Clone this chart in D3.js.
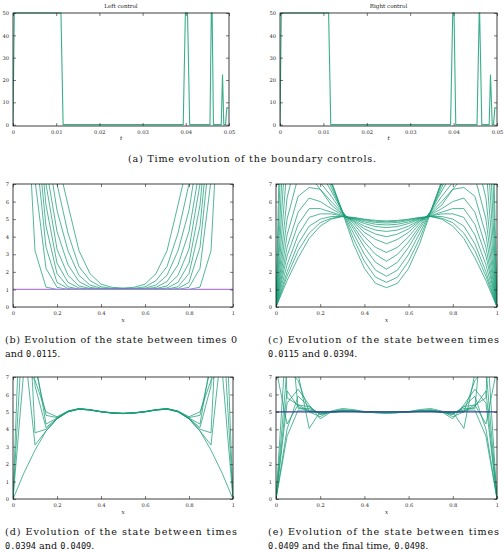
<!DOCTYPE html>
<html>
<head>
<meta charset="utf-8">
<script src="https://cdn.jsdelivr.net/npm/d3@7"></script>
<style>
body { margin: 0; background: #fff; }
svg text { font-family: "DejaVu Serif", serif; }
</style>
</head>
<body>
<svg id="fig" width="504" height="552"></svg>
<script>
// ---- datos: controles de frontera ----
var ctrlTicksX = [0, 0.01, 0.02, 0.03, 0.04, 0.05];
var ctrlTicksY = [0, 10, 20, 30, 40, 50];
var leftT = [0, 0.0003, 0.0111, 0.0116, 0.0394, 0.0399, 0.0404, 0.0409, 0.0456, 0.0459, 0.0461, 0.0464, 0.0482, 0.0485, 0.0488, 0.0492, 0.0495, 0.0499];
var leftU = [0, 50, 50, 0, 0, 50, 50, 0, 0, 50, 50, 0, 0, 22.5, 0, 0, 7.5, 7.5];
var rightT = [0, 0.0003, 0.0112, 0.0117, 0.0393, 0.0398, 0.0401, 0.0405, 0.0454, 0.0459, 0.0460, 0.0465, 0.0482, 0.0485, 0.0489, 0.0492, 0.0495, 0.0499];
var rightU = [0, 50, 50, 0, 0, 50, 50, 0, 0, 50, 50, 0, 0, 22.5, 0, 0, 7.5, 7.5];

// ---- datos: estado (media malla x = 0 ... 0.5, perfil simetrico) ----
var stateTicksX = [0, 0.2, 0.4, 0.6, 0.8, 1];
var stateTicksY = [0, 1, 2, 3, 4, 5, 6, 7];
var initState = 1;
var targetState = 5;

var curvesB = [
  [50, 15, 3.2, 1.13, 1, 1, 1, 1, 1, 1, 1],
  [50, 19, 7.2, 2.2, 1.12, 1, 1, 1, 1, 1, 1],
  [50, 22, 9.5, 3.4, 1.4, 1.05, 1, 1, 1, 1, 1],
  [50, 24, 11, 4.6, 1.9, 1.15, 1.02, 1, 1, 1, 1],
  [50, 26, 12.5, 5.8, 2.5, 1.4, 1.08, 1.02, 1, 1, 1],
  [50, 27, 14, 7, 3.3, 1.8, 1.2, 1.05, 1.01, 1, 1.01],
  [50, 28, 15, 8, 4.3, 2.4, 1.45, 1.12, 1.03, 1.01, 1.02],
  [50, 29, 16, 9.5, 5.5, 3.2, 1.8, 1.25, 1.07, 1.03, 1.03],
  [50, 30, 17.5, 10.5, 7, 4.2, 2.3, 1.5, 1.15, 1.06, 1.05],
  [50, 31, 19, 12, 8.5, 5.8, 3.2, 1.9, 1.3, 1.12, 1.08]
];

var curvesC = [
  [0, 28, 19, 13, 9.5, 7.2, 5.4, 3.6, 2.2, 1.35, 1.1],
  [0, 20, 17.5, 12.5, 9.3, 7.1, 5.45, 3.9, 2.6, 1.7, 1.4],
  [0, 14, 15, 11.5, 8.8, 7.0, 5.45, 4.2, 3.0, 2.1, 1.75],
  [0, 10.5, 12.5, 10.5, 8.3, 6.8, 5.45, 4.45, 3.4, 2.55, 2.15],
  [0, 8, 10.5, 9.4, 7.7, 6.6, 5.45, 4.6, 3.7, 3.0, 2.6],
  [0, 6.2, 8.8, 8.4, 7.1, 6.3, 5.4, 4.75, 4.0, 3.4, 3.1],
  [0, 5.0, 7.4, 7.5, 6.7, 6.0, 5.35, 4.85, 4.25, 3.85, 3.6],
  [0, 4.1, 6.3, 6.8, 6.7, 5.8, 5.3, 4.9, 4.45, 4.15, 4.0],
  [0, 3.4, 5.4, 6.2, 6.0, 5.6, 5.25, 4.95, 4.6, 4.38, 4.3],
  [0, 2.9, 4.7, 5.6, 5.6, 5.4, 5.2, 5.0, 4.75, 4.58, 4.52],
  [0, 2.4, 4.1, 5.1, 5.3, 5.3, 5.17, 5.03, 4.84, 4.71, 4.67],
  [0, 2.0, 3.6, 4.6, 5.0, 5.15, 5.15, 5.05, 4.92, 4.81, 4.78],
  [0, 1.75, 3.2, 4.2, 4.8, 5.05, 5.15, 5.08, 4.97, 4.88, 4.85],
  [0, 1.5, 2.8, 3.9, 4.6, 5.0, 5.15, 5.1, 5.0, 4.93, 4.9]
];

var curvesD = [
  [0, 1.5, 2.8, 3.9, 4.6, 5.0, 5.15, 5.1, 5.0, 4.93, 4.9],
  [50, 9, 3.1, 3.9, 4.6, 5.0, 5.16, 5.1, 5.0, 4.93, 4.9],
  [50, 16, 3.8, 4.0, 4.61, 5.01, 5.17, 5.11, 5.0, 4.93, 4.9],
  [50, 21, 6.5, 4.1, 4.62, 5.02, 5.17, 5.11, 5.01, 4.94, 4.91],
  [0, 17, 8.0, 4.3, 4.64, 5.03, 5.18, 5.12, 5.01, 4.94, 4.91],
  [0, 11, 7.6, 4.8, 4.67, 5.04, 5.18, 5.12, 5.02, 4.95, 4.92],
  [0, 7.5, 6.8, 5.0, 4.72, 5.05, 5.19, 5.13, 5.02, 4.95, 4.92]
];

var curvesE = [
  [0, 7.5, 6.8, 5.0, 4.72, 5.05, 5.19, 5.13, 5.02, 4.95, 4.92],
  [0, 4, 5.9, 5.3, 4.85, 5.0, 5.12, 5.08, 5.0, 4.95, 4.93],
  [50, 12, 5.2, 5.2, 4.9, 5.0, 5.1, 5.06, 5.0, 4.96, 4.95],
  [0, 10, 7.2, 4.05, 5.0, 5.0, 5.08, 5.05, 5.0, 4.97, 4.96],
  [0, 5.5, 6.3, 5.4, 4.6, 5.0, 5.06, 5.04, 5.0, 4.98, 4.97],
  [22, 5.8, 5.4, 5.3, 4.85, 4.98, 5.05, 5.03, 5.0, 4.98, 4.97],
  [0, 6.2, 5.3, 5.0, 4.95, 4.97, 5.04, 5.03, 5.0, 4.98, 4.98],
  [7.5, 4.3, 5.4, 5.05, 4.98, 4.98, 5.03, 5.02, 5.0, 4.99, 4.98],
  [0, 3.6, 5.1, 5.1, 4.98, 4.99, 5.02, 5.02, 5.0, 4.99, 4.98]
];

// malla completa de 21 nodos
var xGrid = d3.range(21).map(function(i) { return i / 20; });

function fullProfile(half) {
  return half.concat(half.slice(0, half.length - 1).reverse());
}

var green = "#1b9e77";
var svg = d3.select("#fig");
var clipId = 0;

// marco + ticks hacia adentro en los cuatro lados
function frame(g, x, y, xTicks, yTicks, xFmt, yFmt, x0, x1, y0, y1) {
  var fs = "5.2px";
  var ax = g.append("g").attr("transform", "translate(0," + y1 + ")")
    .call(d3.axisBottom(x).tickValues(xTicks).tickSize(-3).tickPadding(4).tickFormat(xFmt));
  var axT = g.append("g").attr("transform", "translate(0," + y0 + ")")
    .call(d3.axisTop(x).tickValues(xTicks).tickSize(-3).tickFormat(""));
  var ay = g.append("g").attr("transform", "translate(" + x0 + ",0)")
    .call(d3.axisLeft(y).tickValues(yTicks).tickSize(-3).tickPadding(4).tickFormat(yFmt));
  var ayR = g.append("g").attr("transform", "translate(" + x1 + ",0)")
    .call(d3.axisRight(y).tickValues(yTicks).tickSize(-3).tickFormat(""));
  [ax, axT, ay, ayR].forEach(function(a) {
    a.select(".domain").remove();
    a.selectAll(".tick line").attr("stroke", "#222").attr("stroke-width", 0.6);
    a.selectAll("text").attr("font-size", fs).attr("fill", "#222")
      .attr("font-family", "DejaVu Serif");
  });
  g.append("rect").attr("x", x0).attr("y", y0).attr("width", x1 - x0).attr("height", y1 - y0)
    .attr("fill", "none").attr("stroke", "#111").attr("stroke-width", 0.8);
}

function clipFor(x0, x1, y0, y1) {
  clipId++;
  svg.append("clipPath").attr("id", "clip" + clipId)
    .append("rect").attr("x", x0).attr("y", y0).attr("width", x1 - x0).attr("height", y1 - y0);
  return "url(#clip" + clipId + ")";
}

// ---- paneles de control ----
function controlPanel(title, tArr, uArr, x0, x1) {
  var y0 = 13, y1 = 126;
  var x = d3.scaleLinear().domain([0, 0.05]).range([x0, x1]);
  var y = d3.scaleLinear().domain([-0.6, 50]).range([y1, y0]);
  var g = svg.append("g");
  var pts = tArr.map(function(t, i) { return [t, uArr[i]]; });
  g.append("path").datum(pts)
    .attr("clip-path", clipFor(x0, x1, y0 - 1, y1))
    .attr("d", d3.line().x(function(d) { return x(d[0]); }).y(function(d) { return y(d[1]); }))
    .attr("fill", "none").attr("stroke", "#3aae8a").attr("stroke-width", 1.1);
  frame(g, x, y, ctrlTicksX, ctrlTicksY, function(d) { return d === 0 ? "0" : d3.format(".2f")(d); },
    d3.format("d"), x0, x1, y0, y1);
  g.append("text").attr("x", (x0 + x1) / 2).attr("y", 8).attr("text-anchor", "middle")
    .attr("font-size", "5.6px").attr("fill", "#222").text(title);
  g.append("text").attr("x", (x0 + x1) / 2).attr("y", 140).attr("text-anchor", "middle")
    .attr("font-size", "5.6px").attr("font-style", "italic").attr("fill", "#222").text("t");
}

controlPanel("Left control", leftT, leftU, 13, 229);
controlPanel("Right control", rightT, rightU, 280, 497);

// ---- paneles de estado ----
function statePanel(curves, x0, x1, y0, y1, refValue, refColor) {
  var x = d3.scaleLinear().domain([0, 1]).range([x0, x1]);
  var y = d3.scaleLinear().domain([0, 7]).range([y1, y0]);
  var g = svg.append("g");
  var clip = clipFor(x0, x1, y0, y1);
  var line = d3.line().x(function(d, i) { return x(xGrid[i]); }).y(function(d) { return y(d); });
  g.append("g").attr("clip-path", clip).selectAll("path")
    .data(curves.map(fullProfile))
    .enter().append("path")
    .attr("d", line)
    .attr("fill", "none").attr("stroke", green).attr("stroke-width", 0.75);
  if (refValue !== null) {
    g.append("path").datum([[0, refValue], [1, refValue]])
      .attr("d", d3.line().x(function(d) { return x(d[0]); }).y(function(d) { return y(d[1]); }))
      .attr("stroke", refColor).attr("stroke-width", 1.2).attr("fill", "none");
  }
  frame(g, x, y, stateTicksX, stateTicksY, function(d) { return d3.format("")(d); },
    d3.format("d"), x0, x1, y0, y1);
  g.append("text").attr("x", (x0 + x1) / 2).attr("y", y1 + 15).attr("text-anchor", "middle")
    .attr("font-size", "5.6px").attr("font-style", "italic").attr("fill", "#222").text("x");
}

statePanel(curvesB, 13, 233, 184, 307, initState, "#b47ee0");
statePanel(curvesC, 276, 497, 184, 307, null, null);
statePanel(curvesD, 13, 233, 377, 499, null, null);
statePanel(curvesE, 276, 497, 377, 499, targetState, "#3c3c9a");

// ---- leyendas de las subfiguras ----
function caption(x, y, txt, width, anchor) {
  var t = svg.append("text").attr("x", x).attr("y", y).attr("font-size", "9.6px").attr("fill", "#111")
    .attr("text-anchor", anchor || "start").text(txt);
  if (width) t.attr("textLength", width).attr("lengthAdjust", "spacing");
}
function caption2(x, y, parts) {
  var t = svg.append("text").attr("x", x).attr("y", y).attr("font-size", "9.6px").attr("fill", "#111");
  parts.forEach(function(p) {
    t.append("tspan").text(p[0])
      .attr("font-family", p[1] ? "DejaVu Sans Mono" : "DejaVu Serif")
      .attr("font-size", p[1] ? "8.6px" : "9.6px");
  });
}

caption(252, 162, "(a) Time evolution of the boundary controls.", 248, "middle");
caption(5, 343, "(b) Evolution of the state between times 0", 232);
caption2(5, 357, [["and ", false], ["0.0115", true], [".", false]]);
caption(268, 343, "(c) Evolution of the state between times", 231);
caption2(268, 357, [["0.0115", true], [" and ", false], ["0.0394", true], [".", false]]);
caption(5, 535, "(d) Evolution of the state between times", 232);
caption2(5, 549, [["0.0394", true], [" and ", false], ["0.0409", true], [".", false]]);
caption(268, 535, "(e) Evolution of the state between times", 231);
caption2(268, 549, [["0.0409", true], [" and the final time, ", false], ["0.0498", true], [".", false]]);
</script>
</body>
</html>
